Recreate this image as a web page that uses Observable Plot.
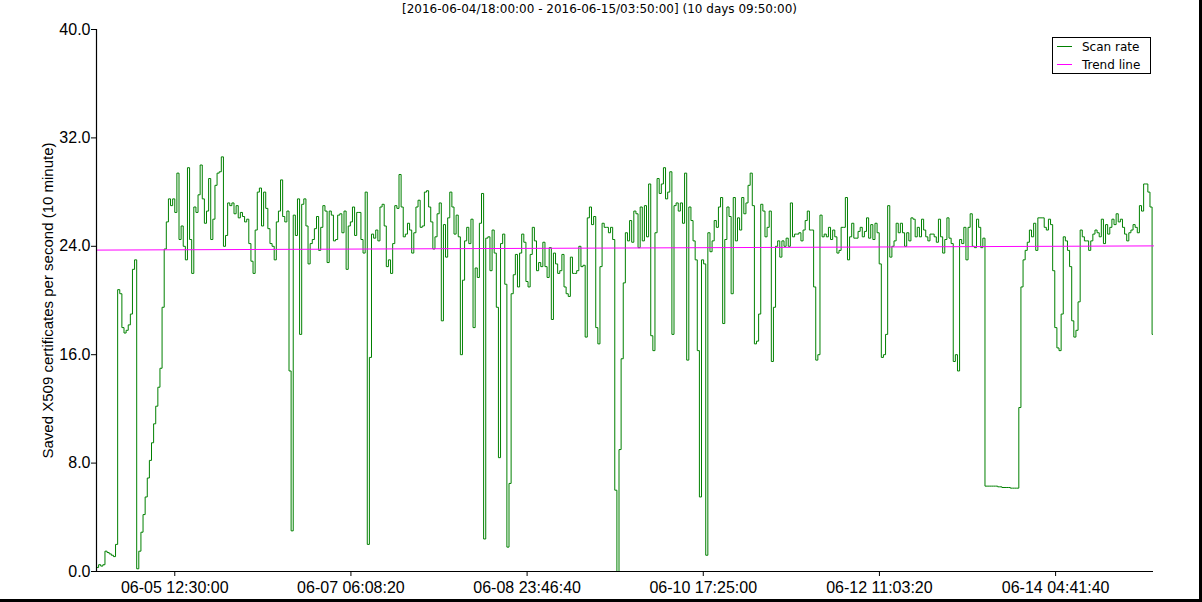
<!DOCTYPE html>
<html>
<head>
<meta charset="utf-8">
<script src="https://cdn.jsdelivr.net/npm/d3@7"></script>
<script src="https://cdn.jsdelivr.net/npm/@observablehq/plot@0.6"></script>
<style>
  body { margin: 0; background: #fff; }
  #wrap { position: relative; width: 1199px; height: 599px; border-right: 3px solid #000; border-bottom: 3px solid #000; background: #fff; overflow: hidden; }
  #title { position: absolute; left: 0; top: 2px; width: 1199px; text-align: center; font: 12px "DejaVu Sans", sans-serif; color: #000; line-height: 14px; }
  #legend { position: absolute; left: 1052px; top: 37px; width: 97px; height: 35px; border: 1px solid #000; background: #fff; }
  #legend svg { display: block; font: 12px "DejaVu Sans", sans-serif; }
  #chart { position: absolute; left: 0; top: 0; }
</style>
</head>
<body>
<div id="wrap">
  <div id="chart"></div>
  <div id="title"></div>
  <div id="legend"></div>
</div>
<script>
// ---- data ----
const titleText = "[2016-06-04/18:00:00 - 2016-06-15/03:50:00] (10 days 09:50:00)";
const yLabel = "Saved X509 certificates per second (10 minute)";
const startTime = "2016-06-04 18:00:00";
const endTime = "2016-06-15 03:50:00";
const stepMinutes = 30;
// saved certificates per second, one reading every 30 minutes from startTime
const rate = [
  0.3,0.5,0.4,0.5,1.5,1.4,1.3,1.2,1.1,2.0,
  20.8,20.5,18.0,17.6,17.8,18.2,19.0,22.3,23.0,0.2,
  1.5,2.9,4.2,5.5,6.9,8.2,9.5,10.9,12.2,13.6,
  15.0,19.5,23.8,25.8,27.5,27.0,27.5,26.5,29.4,24.5,
  25.5,24.0,23.0,29.8,24.5,22.0,26.9,26.5,27.8,30.0,
  27.5,25.7,26.6,29.0,24.5,26.0,28.5,29.4,29.5,30.6,
  24.0,24.8,27.2,27.0,27.2,26.4,27.0,26.1,26.5,26.2,
  25.8,26.0,24.2,22.9,22.0,25.2,28.0,28.3,25.5,28.0,
  26.8,25.3,24.2,24.0,23.0,25.8,26.6,28.9,26.2,25.8,
  26.6,14.8,3.0,26.3,24.8,27.5,17.5,27.1,27.5,25.5,
  22.7,24.2,24.5,25.3,26.2,23.7,25.4,27.0,26.6,22.8,
  26.6,26.3,24.4,24.5,26.3,26.4,25.0,26.6,22.3,25.5,
  25.8,26.9,24.8,26.5,26.5,24.5,23.5,28.0,2.0,15.8,
  24.9,24.6,25.2,24.4,26.9,27.1,25.5,22.5,23.0,22.0,
  24.2,27.0,26.8,29.3,26.9,24.7,24.9,25.7,25.2,23.5,
  25.0,26.9,27.4,25.4,25.5,28.0,28.1,26.9,25.8,23.8,
  24.7,26.4,27.2,18.5,25.6,23.2,26.1,28.0,26.9,24.9,
  26.3,24.7,16.0,21.5,24.4,25.4,24.2,26.0,18.0,22.4,
  21.7,25.7,27.9,2.4,24.6,24.7,22.2,25.2,23.5,19.5,
  8.4,24.2,24.9,21.2,1.8,6.5,20.5,21.9,23.4,21.0,
  23.5,24.9,24.3,21.4,21.0,23.4,25.4,24.4,22.2,22.8,
  22.5,24.3,22.5,21.7,23.9,18.6,23.5,22.7,22.0,22.2,
  23.4,21.0,20.5,20.3,23.2,22.0,22.0,22.2,24.0,22.5,
  22.6,17.3,26.1,26.9,25.6,26.2,18.0,16.8,22.5,25.7,
  25.4,25.4,25.0,25.4,24.5,6.0,0.0,9.0,15.7,21.3,
  25.0,24.4,25.9,24.3,26.6,26.4,23.9,26.9,24.4,27.0,
  24.7,28.6,17.4,16.3,25.0,29.0,27.9,28.6,29.8,27.5,
  28.0,29.5,17.5,27.0,27.2,26.6,27.2,25.7,29.4,15.6,
  26.9,25.9,24.4,23.0,16.3,5.5,23.0,22.7,1.2,25.0,
  23.6,24.4,25.9,25.4,26.9,27.6,18.3,24.5,26.9,26.2,
  20.5,27.6,24.4,26.1,25.2,27.6,26.4,27.2,28.5,29.4,
  27.0,16.8,17.0,19.0,27.1,26.6,24.7,25.4,26.6,15.5,
  19.5,24.0,24.4,23.2,24.4,24.0,24.6,24.0,27.2,24.7,
  24.9,24.9,25.0,24.4,25.2,25.9,26.6,25.2,25.2,21.0,
  15.6,16.0,26.3,24.7,24.9,24.7,25.4,24.5,25.2,24.7,
  23.5,23.7,25.4,25.4,27.6,23.0,24.7,25.7,24.6,24.6,
  25.1,25.4,24.7,25.1,26.1,24.6,25.6,24.5,25.7,25.0,
  22.7,15.8,16.0,17.5,27.0,23.2,24.0,24.4,25.7,25.0,
  25.7,25.0,24.0,25.0,24.4,26.1,26.0,24.7,25.4,24.7,
  26.0,25.2,24.7,24.4,24.9,24.9,24.7,24.3,26.0,24.7,
  23.5,24.5,26.1,24.6,24.2,15.5,16.0,14.8,24.5,24.2,
  25.4,23.0,25.4,26.4,24.0,23.9,26.0,25.4,23.9,24.6,
  6.3,6.3,6.3,6.3,6.3,6.3,6.25,6.25,6.2,6.2,
  6.2,6.2,6.15,6.15,6.15,6.15,12.1,21.0,23.0,23.7,
  24.3,25.2,24.7,25.7,23.7,26.1,26.1,26.1,25.4,25.2,
  26.0,25.6,22.2,18.0,16.5,16.3,19.0,24.7,24.4,23.7,
  22.5,18.5,17.3,17.8,19.9,25.2,24.7,24.4,24.4,23.7,
  24.4,24.9,25.2,25.0,24.7,26.0,24.2,25.6,24.9,25.4,
  26.0,25.6,26.4,25.8,26.0,25.4,24.9,24.4,25.0,25.2,
  25.6,25.4,25.0,27.0,26.6,28.6,28.6,28.0,26.9,17.5,
  18.0
];
const trendValues = [23.72, 24.03];           // trend line at start and end
const yTicks = [0, 8, 16, 24, 32, 40];
const xTickLabels = ["2016-06-05 12:30:00", "2016-06-07 06:08:20", "2016-06-08 23:46:40",
                     "2016-06-10 17:25:00", "2016-06-12 11:03:20", "2016-06-14 04:41:40"];
const seriesNames = ["Scan rate", "Trend line"];
const seriesColors = ["#008000", "#ff00ff"];

// ---- build ----
const parse = d3.utcParse("%Y-%m-%d %H:%M:%S");
const t0 = parse(startTime), t1 = parse(endTime);
const rows = rate.map((v, i) => ({t: new Date(+t0 + i * stepMinutes * 60000), v}));
const trendRows = [{t: t0, v: trendValues[0]}, {t: t1, v: trendValues[1]}];
const xTicks = xTickLabels.map(parse);

document.getElementById("title").textContent = titleText;

const chart = Plot.plot({
  width: 1199,
  height: 599,
  marginLeft: 96,
  marginRight: 46,
  marginTop: 29,
  marginBottom: 28,
  style: {fontFamily: '"Liberation Sans", Arial, sans-serif', fontSize: "16px", color: "#000", background: "transparent", overflow: "visible"},
  x: {type: "utc", domain: [t0, t1], ticks: xTicks, tickFormat: d3.utcFormat("%m-%d %H:%M:%S"), tickSize: 5, tickPadding: 5, label: null},
  y: {domain: [0, 40], ticks: yTicks, tickFormat: d3.format(".1f"), tickSize: 5, tickPadding: 1, label: null},
  marks: [
    Plot.lineY(rows, {x: "t", y: "v", stroke: seriesColors[0], strokeWidth: 1, curve: "step-after", clip: true}),
    Plot.line(trendRows, {x: "t", y: "v", stroke: seriesColors[1], strokeWidth: 1}),
    Plot.ruleX([t0], {stroke: "#000", strokeWidth: 1.2}),
    Plot.ruleY([0], {stroke: "#000", strokeWidth: 1.2}),
    Plot.text([yLabel], {frameAnchor: "left", dx: -48, rotate: -90, textAnchor: "middle", fontSize: 15, fill: "#000"})
  ]
});
document.getElementById("chart").appendChild(chart);

// legend
const lg = d3.select("#legend").append("svg").attr("width", 97).attr("height", 35);
seriesNames.forEach((name, i) => {
  const y = 8.5 + i * 18;
  lg.append("line").attr("x1", 4).attr("x2", 19).attr("y1", y).attr("y2", y).attr("stroke", seriesColors[i]).attr("stroke-width", 1);
  lg.append("text").attr("x", 29).attr("y", 13 + i * 18).attr("fill", "#000").text(name);
});
</script>
</body>
</html>
